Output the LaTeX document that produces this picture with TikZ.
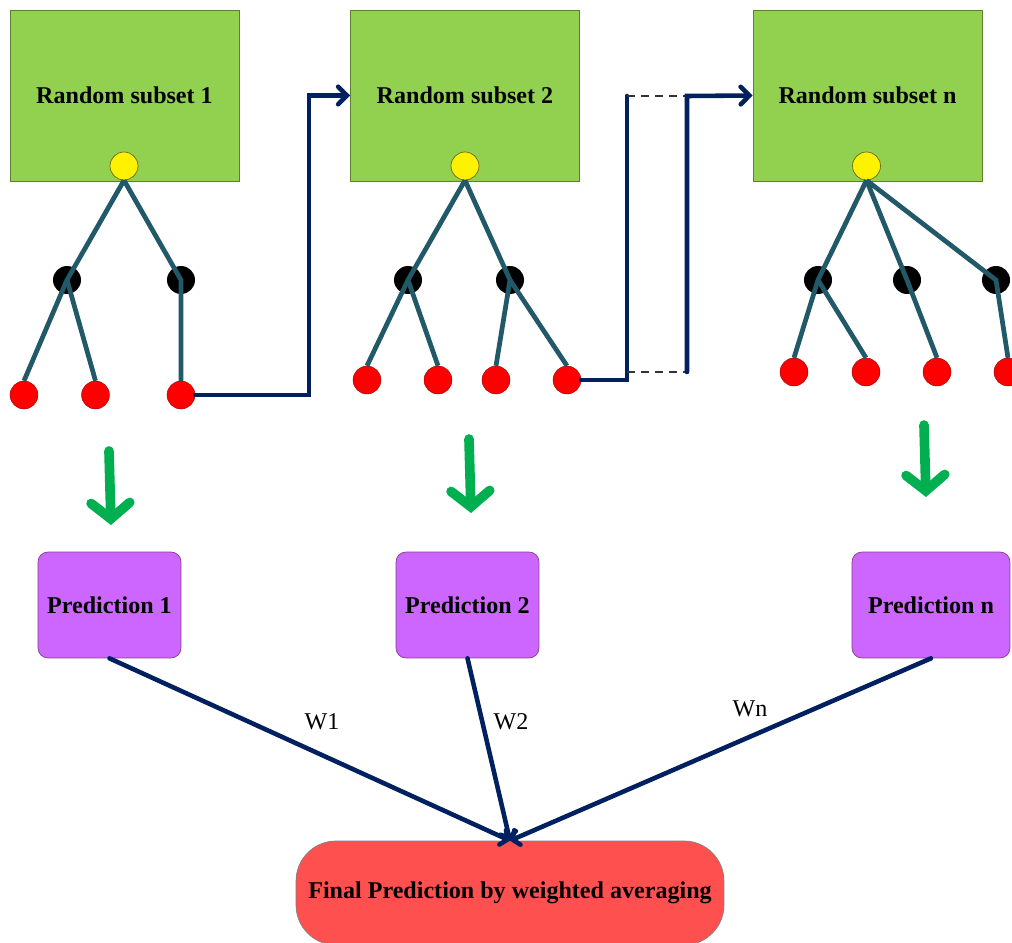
\documentclass[tikz,border=0pt]{standalone}
\usepackage{fontspec}
\setmainfont{Liberation Serif}
\usepackage{tikz}
\usetikzlibrary{arrows.meta}

\definecolor{subgreen}{HTML}{92D050}
\definecolor{subedge}{HTML}{5E7F2C}
\definecolor{treeteal}{HTML}{215968}
\definecolor{navy}{HTML}{002060}
\definecolor{arrgreen}{HTML}{00B050}
\definecolor{predpurple}{HTML}{CC66FF}
\definecolor{finred}{HTML}{FF5050}

\tikzset{
    subsetbox/.style={draw=subedge, fill=subgreen, minimum width=4.58cm, minimum height=3.42cm, inner sep=0pt, font=\fontsize{13.7}{16}\selectfont\bfseries},
    rootnode/.style={circle, draw=olive!70!black, fill=yellow, minimum size=0.56cm, inner sep=0pt},
    splitnode/.style={circle, fill=black, minimum size=0.56cm, inner sep=0pt},
    leafnode/.style={circle, draw=red!50!black, very thin, fill=red, minimum size=0.56cm, inner sep=0pt},
    branch/.style={treeteal, line width=2.7pt},
    link/.style={navy, line width=2.6pt, line cap=round},
    downarrow/.style={arrgreen, line width=5.5pt, line cap=round, -{Straight Barb[length=9pt, width=22pt, line cap=round]}},
    predbox/.style={draw=violet!50!gray, fill=predpurple, rounded corners=0.2cm, minimum width=2.86cm, minimum height=2.12cm, inner sep=0pt, font=\fontsize{13.7}{16}\selectfont\bfseries},
    weightlabel/.style={font=\fontsize{13.7}{16}\selectfont}
}

\begin{document}
\begin{tikzpicture}[x=0.02cm, y=-0.02cm]
            \useasboundingbox (0,0) rectangle (1012,943);
            \node[subsetbox] (s1) at (124.5,95.5) {Random subset 1};
            \node[subsetbox] (s2) at (465,95.5) {Random subset 2};
            \node[subsetbox] (s3) at (867.5,95.5) {Random subset n};
            \node[rootnode] (r1) at (124,166) {};
            \node[rootnode] (r2) at (465,166) {};
            \node[rootnode] (r3) at (866.5,166) {};
            \node[splitnode] (b11) at (67,280) {};
            \node[splitnode] (b12) at (181,280) {};
            \node[splitnode] (b21) at (408,280) {};
            \node[splitnode] (b22) at (510,280) {};
            \node[splitnode] (b31) at (818,280) {};
            \node[splitnode] (b32) at (907,280) {};
            \node[splitnode] (b33) at (996,280) {};
            \node[leafnode] (l11) at (24,395) {};
            \node[leafnode] (l12) at (95.5,395) {};
            \node[leafnode] (l13) at (181,395) {};
            \node[leafnode] (l21) at (367,380) {};
            \node[leafnode] (l22) at (438,380) {};
            \node[leafnode] (l23) at (496,380) {};
            \node[leafnode] (l24) at (567,380) {};
            \node[leafnode] (l31) at (794,372) {};
            \node[leafnode] (l32) at (866,372) {};
            \node[leafnode] (l33) at (937,372) {};
            \node[leafnode] (l34) at (1008,372) {};
            \draw[branch] (r1.south) -- (b11.center) -- (l11.north);
            \draw[branch] (b11.center) -- (l12.north);
            \draw[branch] (r1.south) -- (b12.center) -- (l13.north);
            \draw[branch] (r2.south) -- (b21.center) -- (l21.north);
            \draw[branch] (b21.center) -- (l22.north);
            \draw[branch] (r2.south) -- (b22.center) -- (l23.north);
            \draw[branch] (b22.center) -- (l24.north);
            \draw[branch] (r3.south) -- (b31.center) -- (l31.north);
            \draw[branch] (b31.center) -- (l32.north);
            \draw[branch] (r3.south) -- (b32.center) -- (l33.north);
            \draw[branch] (r3.south) -- (b33.center) -- (l34.north);
            \coordinate (k1) at (309,95.5);
            \coordinate (g1) at (627,96);
            \coordinate (g2) at (687,96);
            \coordinate (g3) at (627,372);
            \coordinate (g4) at (687,372);
            \draw[link, -{Straight Barb[length=5pt, width=10pt, line cap=round]}] (l13.east) -| (k1) -- (s2.west);
            \draw[link] (l24.east) -| (g1);
            \draw[thick, black!80, dash pattern=on 4.5pt off 3.5pt] (g1) -- (g2);
            \draw[thick, black!80, dash pattern=on 4.5pt off 3.5pt] (g3) -- (g4);
            \draw[link, -{Straight Barb[length=5pt, width=10pt, line cap=round]}] (g4) -- (g2) -- (s3.west);
            \coordinate (a1) at (109,451);
            \coordinate (a2) at (469,439);
            \coordinate (a3) at (924,425);
            \draw[downarrow] (a1) -- ++(2,74);
            \draw[downarrow] (a2) -- ++(2,74);
            \draw[downarrow] (a3) -- ++(2,72);
            \node[predbox] (p1) at (109.5,605) {Prediction 1};
            \node[predbox] (p2) at (467.5,605) {Prediction 2};
            \node[predbox, minimum width=3.16cm] (p3) at (931,605) {Prediction n};
            \node[draw=gray, fill=finred, rounded corners=0.8cm, minimum width=8.56cm, minimum height=2.08cm, inner sep=0pt, font=\fontsize{13.7}{16}\selectfont\bfseries] (fin) at (510,893) {Final Prediction by weighted averaging};
            \draw[link, -{Straight Barb[length=3pt, width=9pt, line cap=round]}] (p1.south) -- (fin.north);
            \draw[link, -{Straight Barb[length=3pt, width=9pt, line cap=round]}] (p2.south) -- (fin.north);
            \draw[link, -{Straight Barb[length=3pt, width=9pt, line cap=round]}] (p3.south) -- (fin.north);
            \node[weightlabel] (w1) at (322,722) {W1};
            \node[weightlabel] (w2) at (511,722) {W2};
            \node[weightlabel] (wn) at (750,709) {Wn};
        \end{tikzpicture}
\end{document}
